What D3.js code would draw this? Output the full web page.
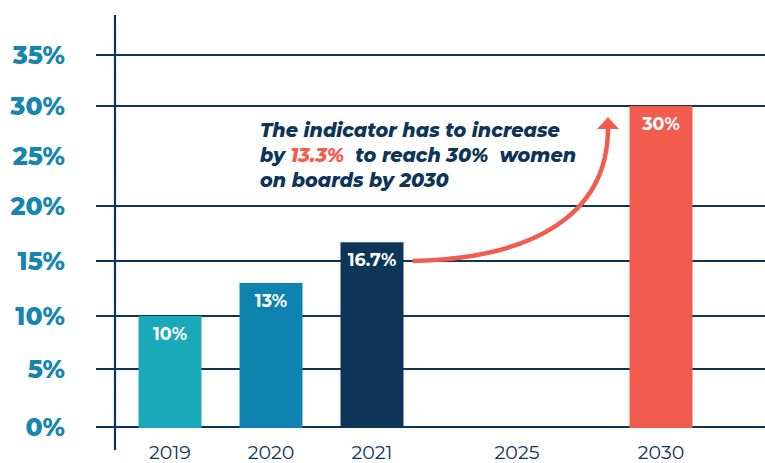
<!DOCTYPE html>
<html>
<head>
<meta charset="utf-8">
<script src="https://cdn.jsdelivr.net/npm/d3@7"></script>
<style>
  body { margin: 0; background: #fff; }
  svg { display: block; }
</style>
</head>
<body>
<div id="chart"></div>
<script>
(function() {
  // data
  let years = [2019, 2020, 2021, 2025, 2030]
  let values = [10, 13, 16.7, null, 30]
  let valueLabels = ['10%', '13%', '16.7%', '', '30%']
  let barColors = ['#19a9b8', '#0f83af', '#0d3557', null, '#f25c4e']
  let yTicks = [0, 5, 10, 15, 20, 25, 30, 35]
  let gridTicks = [0, 5, 10, 15, 20, 30, 35]
  let noteLines = [
    [{ t: 'The indicator has to increase' }],
    [{ t: 'by ' }, { t: '13.3%', hi: true }, { t: '  to reach 30%  women' }],
    [{ t: 'on boards by 2030' }]
  ]

  let width = 765,
  height = 463
  let navy = '#0d3557', red = '#f25c4e', tickBlue = '#1686b0'
  let font = 'Montserrat, "Open Sans", Lato, sans-serif'

  let svg = d3.select('#chart')
    .append('svg')
    .attr('width', width)
    .attr('height', height)

  // the original spacing isn't perfectly even, so a polylinear scale follows it
  let y = d3.scaleLinear()
    .domain([0, 5, 10, 15, 20, 30, 35])
    .range([427, 369, 316, 261, 206, 106, 55])

  let x = d3.scaleLinear()
    .domain([2019, 2021, 2025, 2030])
    .range([170, 372, 517, 661])

  let barW = 63

  // gridlines
  svg.append('g')
    .selectAll('line')
    .data(gridTicks)
    .enter()
    .append('line')
    .attr('x1', 96)
    .attr('x2', width)
    .attr('y1', (d) => y(d))
    .attr('y2', (d) => y(d))
    .attr('stroke', navy)
    .attr('stroke-width', 2.2)

  // vertical axis line
  svg.append('line')
    .attr('x1', 115).attr('x2', 115)
    .attr('y1', 15).attr('y2', 450)
    .attr('stroke', navy)
    .attr('stroke-width', 2.2)

  // y tick labels
  svg.append('g')
    .selectAll('text')
    .data(yTicks)
    .enter()
    .append('text')
    .attr('x', 65)
    .attr('y', (d) => y(d) + 9)
    .attr('text-anchor', 'end')
    .attr('fill', tickBlue)
    .attr('font-family', font)
    .attr('font-weight', 800)
    .attr('font-size', 25)
    .text((d) => d + '%')

  let bars = years.map((yr, i) => ({ year: yr, value: values[i], label: valueLabels[i], color: barColors[i] }))
    .filter((d) => d.value != null)

  svg.append('g')
    .selectAll('rect')
    .data(bars)
    .enter()
    .append('rect')
    .attr('x', (d) => x(d.year) - barW / 2)
    .attr('y', (d) => y(d.value))
    .attr('width', barW)
    .attr('height', (d) => y(0) + 1 - y(d.value))
    .attr('fill', (d) => d.color)

  svg.append('g')
    .selectAll('text')
    .data(bars)
    .enter()
    .append('text')
    .attr('x', (d) => x(d.year))
    .attr('y', (d) => y(d.value) + 24)
    .attr('text-anchor', 'middle')
    .attr('fill', '#fff')
    .attr('font-family', font)
    .attr('font-weight', 700)
    .attr('font-size', 17.5)
    .text((d) => d.label)

  // year labels
  svg.append('g')
    .selectAll('text')
    .data(years)
    .enter()
    .append('text')
    .attr('x', (d) => x(d))
    .attr('y', 459)
    .attr('text-anchor', 'middle')
    .attr('fill', navy)
    .attr('font-family', font)
    .attr('font-size', 19)
    .text((d) => d)

  // arrow from 2021 bar towards 2030
  let x0 = x(2021) + barW / 2 + 9, y0 = y(15)
  let x1 = x(2030) - 53, y1 = y(30) + 22
  svg.append('path')
    .attr('d', `M${x0},${y0} C${x0 + 110},${y0 - 2} ${x1},${y0 - 40} ${x1},${y1}`)
    .attr('fill', 'none')
    .attr('stroke', red)
    .attr('stroke-width', 4.5)
  svg.append('path')
    .attr('d', `M${x1 - 11},${y1 + 1} L${x1},${y1 - 11} L${x1 + 11},${y1 + 1} Z`)
    .attr('fill', red)

  // annotation
  let note = svg.append('text')
    .attr('font-family', font)
    .attr('font-style', 'italic')
    .attr('font-weight', 800)
    .attr('font-size', 19.2)
    .attr('fill', navy)

  noteLines.forEach((parts, i) => {
    let line = note.append('tspan')
      .attr('x', 260)
      .attr('y', 137 + i * 25)
    parts.forEach((p) => {
      line.append('tspan')
        .attr('fill', p.hi ? red : navy)
        .attr('xml:space', 'preserve')
        .text(p.t)
    })
  })
})()
</script>
</body>
</html>
